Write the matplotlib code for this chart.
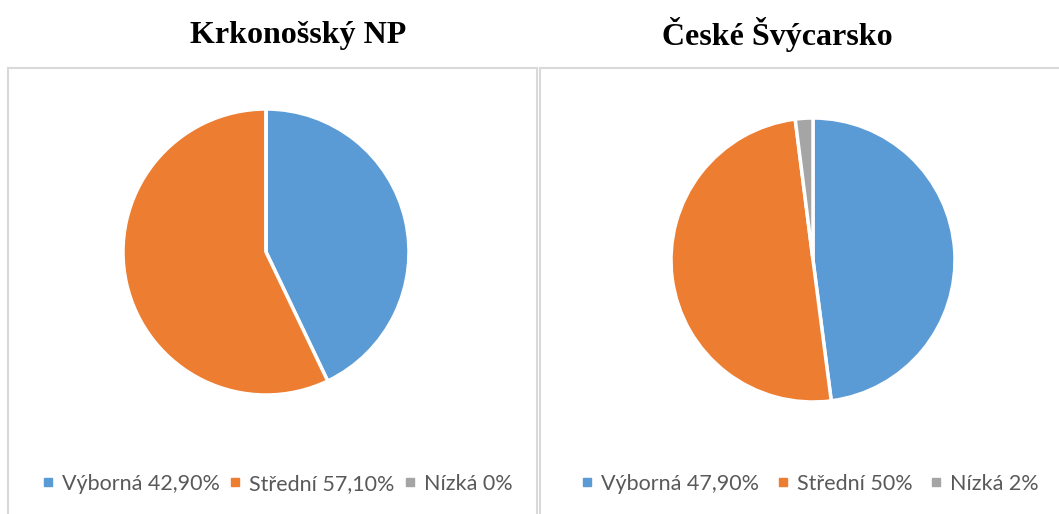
import matplotlib
matplotlib.use("Agg")
import matplotlib.pyplot as plt
from matplotlib.patches import Rectangle
from matplotlib.lines import Line2D

titles = ["Krkonošský NP", "České Švýcarsko"]
categories = ["Výborná", "Střední", "Nízká"]
label_texts_left = ["Výborná 42,90%", "Střední 57,10%", "Nízká 0%"]
label_texts_right = ["Výborná 47,90%", "Střední 50%", "Nízká 2%"]
values_left = [42.9, 57.1, 0.0]
values_right = [47.9, 50.0, 2.0]
colors = ["#5B9BD5", "#ED7D31", "#A5A5A5"]

W, H = 1059, 514
fig = plt.figure(figsize=(W / 100, H / 100), dpi=100)

def fx(x):
    return x / W

def fy(y):
    return 1 - y / H

# panel borders
for x0, x1 in [(8, 537), (540, 1062)]:
    fig.patches.append(Rectangle((fx(x0), fy(530)), fx(x1 - x0), (530 - 68) / H,
                                 transform=fig.transFigure, fill=False,
                                 edgecolor="#D9D9D9", linewidth=1.5, clip_on=False))

panels = [
    dict(vals=values_left, labels=label_texts_left, cx=266, cy=252, r=143,
         tx=298, legx=278, colsp=0.5),
    dict(vals=values_right, labels=label_texts_right, cx=813, cy=260, r=142,
         tx=777, legx=811, colsp=0.9),
]

for i, p in enumerate(panels):
    r = p["r"]
    ax = fig.add_axes([fx(p["cx"] - r), fy(p["cy"] + r), 2 * r / W, 2 * r / H])
    ax.pie(p["vals"], colors=colors, startangle=90, counterclock=False,
           wedgeprops=dict(edgecolor="white", linewidth=2.5), radius=1.0)
    ax.set_xlim(-1, 1)
    ax.set_ylim(-1, 1)
    ax.set_aspect("equal")
    ax.axis("off")
    fig.text(fx(p["tx"]), fy(35), titles[i], ha="center", va="center",
             fontsize=23, fontweight="bold", family="Liberation Serif", color="black")
    handles = [Line2D([], [], marker="s", linestyle="none", markersize=5.5,
                      markerfacecolor=c, markeredgecolor=c) for c in colors]
    fig.legend(handles, p["labels"], loc="center", bbox_to_anchor=(fx(p["legx"]), fy(484)),
               ncol=3, frameon=False, handlelength=0.4, handletextpad=0.45,
               columnspacing=p["colsp"], prop=dict(family="Lato", size=15.5),
               labelcolor="#595959", borderaxespad=0, borderpad=0)

fig.savefig("out.png", dpi=100, facecolor="white")
